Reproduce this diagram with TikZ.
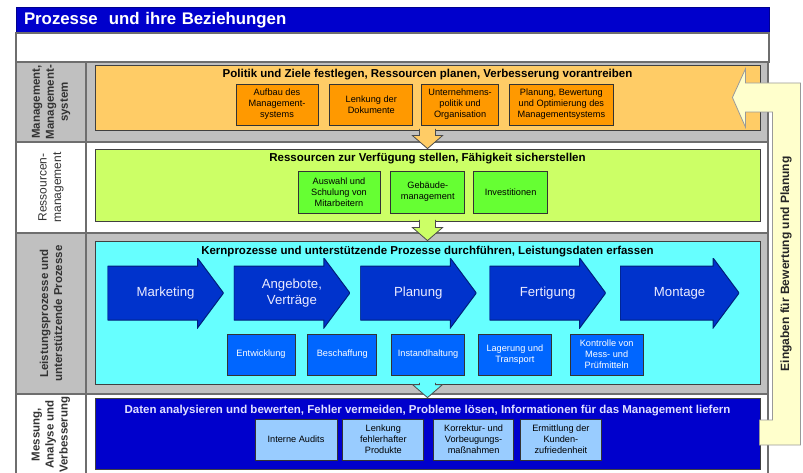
\documentclass[tikz,border=0pt]{standalone}
\usepackage{fontspec}
\setmainfont{Liberation Sans}
\usetikzlibrary{positioning}

\definecolor{titleblue}{HTML}{0000CC}
\definecolor{lanegray}{HTML}{C0C0C0}
\definecolor{laneline}{HTML}{6E6E6E}
\definecolor{polfill}{HTML}{FFCC66}
\definecolor{polsub}{HTML}{FF9900}
\definecolor{resfill}{HTML}{CCFF66}
\definecolor{ressub}{HTML}{66FF33}
\definecolor{kernfill}{HTML}{66FFFF}
\definecolor{chevfill}{HTML}{0033CC}
\definecolor{chevline}{HTML}{00207A}
\definecolor{kernsub}{HTML}{0066FF}
\definecolor{messfill}{HTML}{0000CC}
\definecolor{messsub}{HTML}{99CCFF}
\definecolor{feedfill}{HTML}{FFFFCC}

\begin{document}
\begin{tikzpicture}[x=1pt, y=-1pt,
    lane/.style={draw=laneline, line width=1.2pt, inner sep=0pt, minimum width=682pt},
    lanehead/.style={draw=laneline, line width=1.2pt, inner sep=0pt, rotate=90, minimum height=70pt,
        align=center, text=black!80, font=\fontsize{11.5}{14}\selectfont\bfseries},
    phase/.style={draw=black!75, line width=0.8pt, minimum width=665pt, inner sep=0pt},
    phasetitle/.style={inner sep=0pt, font=\fontsize{11.5}{13}\selectfont\bfseries},
    sub/.style={draw=black!80, line width=0.8pt, inner sep=1pt, minimum height=41pt, align=center,
        font=\fontsize{9.2}{11}\selectfont},
    chev/.style={minimum width=116pt, minimum height=70pt, inner sep=0pt, align=center,
        text=blue!8!white, font=\fontsize{13.2}{16}\selectfont,
        path picture={\filldraw[fill=chevfill, draw=chevline, line width=1pt]
            ([yshift=8pt]path picture bounding box.south west)
            -- ([xshift=-26pt,yshift=8pt]path picture bounding box.south east)
            -- ([xshift=-26pt]path picture bounding box.south east)
            -- (path picture bounding box.east)
            -- ([xshift=-26pt]path picture bounding box.north east)
            -- ([xshift=-26pt,yshift=-8pt]path picture bounding box.north east)
            -- ([yshift=-8pt]path picture bounding box.north west) -- cycle;}},
    flow/.style={draw=black!70, line width=0.8pt},
    feedback/.style={draw=black!40, fill=feedfill, line width=0.8pt}]
    \useasboundingbox (0,0) rectangle (803,473);

    \node[draw=titleblue!70!black, fill=titleblue, minimum width=753pt, minimum height=26pt, inner sep=0pt,
        text width=737pt, align=left, text=white, font=\fontsize{16.8}{18}\selectfont\bfseries]
        (title) at (392.5,20) {Prozesse\ \ und ihre Beziehungen};
    \node[draw=laneline, line width=1.2pt, fill=white, minimum width=753pt, minimum height=29pt] (blank) at (392.5,47.5) {};

    % lanes
    \node[lane, fill=lanegray, minimum height=80pt] (lane1) at (427,102) {};
    \node[lanehead, fill=lanegray, minimum width=80pt] (head1) at (51,102) {Management,\\Management-\\system};
    \node[lane, fill=white, minimum height=91pt] (lane2) at (427,187.5) {};
    \node[lanehead, fill=white, minimum width=91pt, font=\fontsize{12}{14.5}\selectfont] (head2) at (51,187.5) {Ressourcen-\\management};
    \node[lane, fill=lanegray, minimum height=161pt] (lane3) at (427,313.5) {};
    \node[lanehead, fill=lanegray, minimum width=161pt] (head3) at (51,313.5) {Leistungsprozesse und\\unterstützende Prozesse};
    \node[lane, fill=white, minimum height=81pt] (lane4) at (427,434.5) {};
    \node[lanehead, fill=white, minimum width=81pt] (head4) at (51,434.5) {Messung,\\Analyse und\\Verbesserung};

    % phases
    \node[phase, fill=polfill, minimum height=65pt] (pol) at (427.5,97.5) {};
    \node[phase, fill=resfill, minimum height=72pt] (res) at (427.5,185) {};
    \node[phase, fill=kernfill, minimum height=143pt] (kern) at (427.5,312.5) {};
    \node[phase, fill=messfill, minimum height=71pt] (mess) at (427.5,433.5) {};

    \node[phasetitle] (poltitle) at ([yshift=-10pt]pol.north) {Politik und Ziele festlegen, Ressourcen planen, Verbesserung vorantreiben};
    \node[phasetitle] (restitle) at ([yshift=-10pt]res.north) {Ressourcen zur Verfügung stellen, Fähigkeit sicherstellen};
    \node[phasetitle] (kerntitle) at ([yshift=-11pt]kern.north) {Kernprozesse und unterstützende Prozesse durchführen, Leistungsdaten erfassen};
    \node[phasetitle, text=blue!12!white] (messtitle) at ([yshift=-13pt]mess.north) {Daten analysieren und bewerten, Fehler vermeiden, Probleme lösen, Informationen für das Management liefern};

    % arrows between phases
    \foreach \a/\b/\c in {pol/res/polfill, res/kern/resfill, kern/mess/kernfill}
        \filldraw[flow, fill=\c] ([xshift=-8pt,yshift=1.5pt]\a.south) -- ([xshift=-8pt,yshift=13pt]\b.north)
            -- ([xshift=-15pt,yshift=13pt]\b.north) -- (\b.north) -- ([xshift=15pt,yshift=13pt]\b.north)
            -- ([xshift=8pt,yshift=13pt]\b.north) -- ([xshift=8pt,yshift=1.5pt]\a.south);

    % Management
    \node[sub, fill=polsub, minimum width=82pt] (aufbau) at (277,104.5) {Aufbau des\\Management-\\systems};
    \node[sub, fill=polsub, minimum width=83pt, right=11pt of aufbau] (lenkdok) {Lenkung der\\Dokumente};
    \node[sub, fill=polsub, minimum width=77pt, right=8pt of lenkdok] (politik) {Unternehmens-\\politik und\\Organisation};
    \node[sub, fill=polsub, minimum width=104pt, right=10pt of politik] (planung) {Planung, Bewertung\\und Optimierung des\\Managementsystems};

    % Ressourcen
    \node[sub, fill=ressub, minimum width=82pt, minimum height=42pt] (auswahl) at (339,192) {Auswahl und\\Schulung von\\Mitarbeitern};
    \node[sub, fill=ressub, minimum width=74pt, minimum height=42pt, right=10pt of auswahl] (gebaeude) {Gebäude-\\management};
    \node[sub, fill=ressub, minimum width=74pt, minimum height=42pt, right=8pt of gebaeude] (invest) {Investitionen};

    % Kernprozesse
    \node[chev] (mkt) at (165.5,293) {Marketing};
    \node[chev, right=10pt of mkt] (angebot) {Angebote,\\Verträge};
    \node[chev, right=10pt of angebot] (plan) {Planung};
    \node[chev, right=13pt of plan] (fert) {Fertigung};
    \node[chev, right=14pt of fert, minimum width=119pt] (montage) {Montage};

    \node[sub, fill=kernsub, text=white, minimum width=68pt] (entw) at (261,354.5) {Entwicklung};
    \node[sub, fill=kernsub, text=white, minimum width=69pt, right=12pt of entw] (besch) {Beschaffung};
    \node[sub, fill=kernsub, text=white, minimum width=73pt, right=14pt of besch] (instand) {Instandhaltung};
    \node[sub, fill=kernsub, text=white, minimum width=73pt, right=13pt of instand] (lager) {Lagerung und\\Transport};
    \node[sub, fill=kernsub, text=white, minimum width=73pt, right=18pt of lager] (kontrolle) {Kontrolle von\\Mess- und\\Prüfmitteln};

    % Messung
    \node[sub, fill=messsub, minimum width=82pt] (audits) at (296,439.5) {Interne Audits};
    \node[sub, fill=messsub, minimum width=81pt, right=5pt of audits] (fehler) {Lenkung\\fehlerhafter\\Produkte};
    \node[sub, fill=messsub, minimum width=80pt, right=9pt of fehler] (korrektur) {Korrektur- und\\Vorbeugungs-\\maßnahmen};
    \node[sub, fill=messsub, minimum width=81pt, right=6pt of korrektur] (kunden) {Ermittlung der\\Kunden-\\zufriedenheit};

    % Rueckfuehrung
    \filldraw[feedback] ([xshift=-28pt]pol.east) -- ++(13,-28.5) -- ++(0,14) -- ++(55,0) -- ++(0,362)
        -- ++(-41,0) -- ++(0,-25) -- ++(13,0) -- ++(0,-308) -- ++(-27,0) -- ++(0,15) -- cycle;
    \node[rotate=90, inner sep=0pt, text=black!85, font=\fontsize{12}{14}\selectfont\bfseries] (eingaben) at (786,264) {Eingaben für Bewertung und Planung};
\end{tikzpicture}
\end{document}
